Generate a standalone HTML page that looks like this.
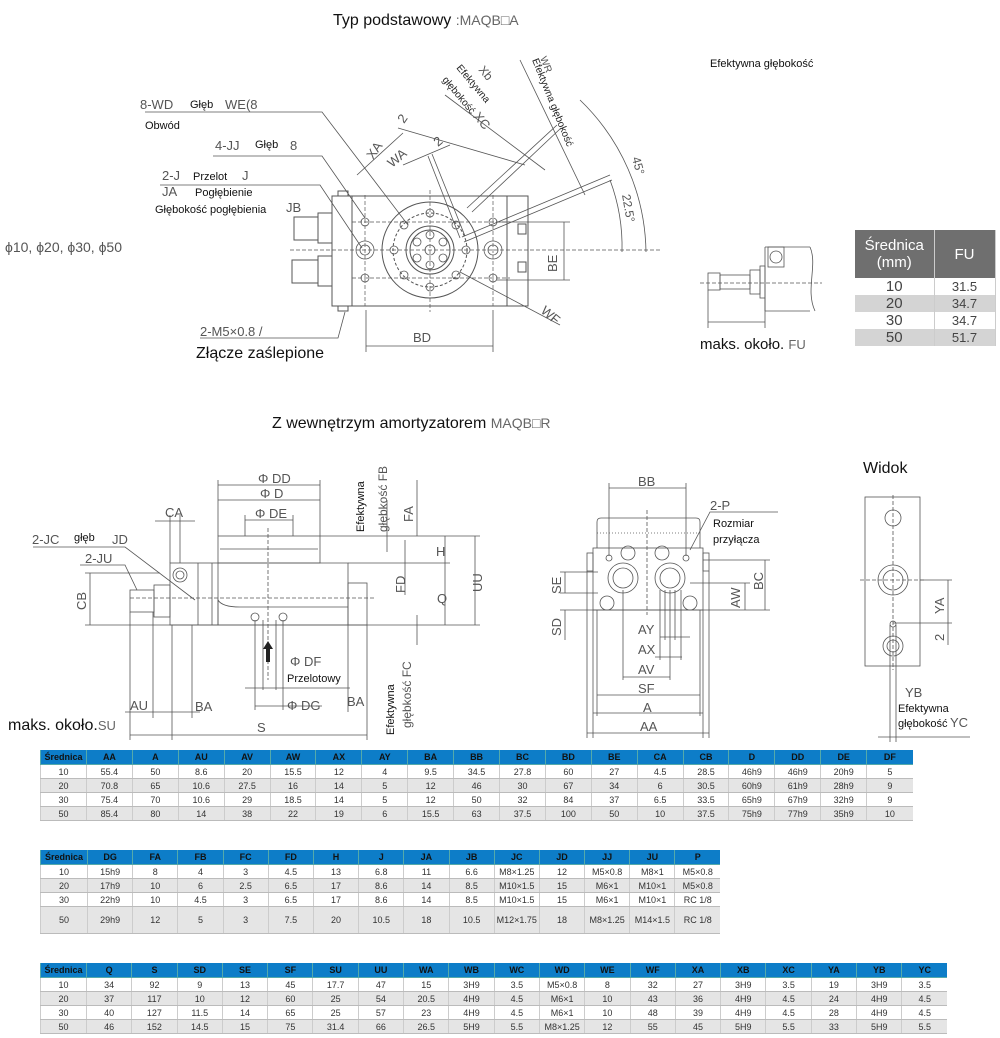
<!DOCTYPE html>
<html><head><meta charset="utf-8"><style>
body{margin:0;background:#fff;width:1000px;height:1038px;position:relative;overflow:hidden;font-family:"Liberation Sans",sans-serif}
svg{position:absolute;left:0;top:0}
table{position:absolute;border-collapse:collapse;table-layout:fixed;font-family:"Liberation Sans Narrow","Liberation Sans",sans-serif;font-size:9px;color:#333}
td{text-align:center;padding:0;border-left:1px solid #ccc;border-bottom:1px solid #bbb;height:13px;overflow:hidden;white-space:nowrap}
tr.h td{background:#0d7dc8;color:#111;font-weight:bold;height:14px;border-color:#5aa}
tr.g td{background:#e5e5e5}
.fu{position:absolute;left:855px;top:230px;border-collapse:collapse;font-family:"Liberation Sans",sans-serif;font-size:13px;color:#444}
.fu td{border:none;border-right:1px solid #ccc;height:17px}
</style></head><body>
<svg width="1000" height="1038" viewBox="0 0 1000 1038" font-family="Liberation Sans, sans-serif" fill="none" stroke="#555" stroke-width="1">
<g fill="#111" stroke="none">
<text x="333" y="25" font-size="16">Typ podstawowy <tspan fill="#666" font-size="14">:MAQB□A</tspan></text>
<text x="710" y="67" font-size="11">Efektywna głębokość</text>
<text x="272" y="428" font-size="16">Z wewnętrzym amortyzatorem <tspan fill="#666" font-size="14">MAQB□R</tspan></text>
<text x="863" y="473" font-size="16">Widok</text>
<text x="196" y="358" font-size="16">Złącze zaślepione</text>
<text x="8" y="730" font-size="16">maks. około.<tspan fill="#666" font-size="13">SU</tspan></text>
<text x="700" y="349" font-size="15">maks. około. <tspan fill="#666" font-size="13">FU</tspan></text>
</g>
<g fill="#555" stroke="none" font-size="13">
<text x="140" y="109">8-WD</text><text x="225" y="109">WE(8</text>
<text x="215" y="150">4-JJ</text><text x="290" y="150">8</text>
<text x="162" y="180">2-J</text><text x="242" y="180">J</text>
<text x="162" y="196">JA</text><text x="286" y="212">JB</text>
<text x="5" y="252" font-size="14">ϕ10, ϕ20, ϕ30, ϕ50</text>
<text x="200" y="336">2-M5×0.8 /</text>
<text x="413" y="342">BD</text>
<text transform="translate(557,272) rotate(-90)">BE</text>
<text transform="translate(540,312) rotate(40)">WF</text>
<text transform="translate(632,158) rotate(75)" font-size="12">45°</text>
<text transform="translate(622,195) rotate(80)" font-size="12">22.5°</text>
<text transform="translate(373,160) rotate(-55)">XA</text>
<text transform="translate(404,124) rotate(-55)">2</text>
<text transform="translate(392,168) rotate(-40)">WA</text>
<text transform="translate(438,147) rotate(-40)">2</text>
<text transform="translate(478,70) rotate(50)" font-size="12">Xb</text>
<text transform="translate(456,68) rotate(50)" font-size="10" fill="#222">Efektywna</text>
<text transform="translate(442,80) rotate(50)" font-size="10" fill="#222">głębokość <tspan font-size="13" fill="#555">XC</tspan></text>
<text transform="translate(540,58) rotate(68)" font-size="10">WR</text>
<text transform="translate(532,60) rotate(68)" font-size="10" fill="#222">Efektywna głębokość</text>
</g>
<g fill="#111" stroke="none" font-size="11">
<text x="190" y="108">Głęb</text><text x="145" y="129">Obwód</text>
<text x="255" y="148">Głęb</text><text x="193" y="180">Przelot</text>
<text x="195" y="196">Pogłębienie</text><text x="155" y="213">Głębokość pogłębienia</text>
</g>
<rect x="332" y="196" width="196" height="110"/>
<line x1="352" y1="196" x2="352" y2="306"/><line x1="507" y1="196" x2="507" y2="306"/>
<circle cx="430" cy="250" r="48"/><circle cx="430" cy="250" r="37" stroke-dasharray="3 2"/>
<circle cx="430" cy="250" r="24"/><circle cx="430" cy="250" r="20"/>
<g stroke-width="0.8">
<circle cx="430" cy="250" r="5"/><circle cx="417" cy="242" r="4"/><circle cx="443" cy="242" r="4"/><circle cx="417" cy="258" r="4"/><circle cx="443" cy="258" r="4"/><circle cx="430" cy="235" r="4"/><circle cx="430" cy="265" r="4"/>
<circle cx="404" cy="225" r="4"/><circle cx="456" cy="225" r="4"/><circle cx="404" cy="275" r="4"/><circle cx="456" cy="275" r="4"/><circle cx="430" cy="213" r="4"/><circle cx="430" cy="287" r="4"/><circle cx="394" cy="250" r="4"/><circle cx="466" cy="250" r="4"/>
<circle cx="365" cy="222" r="4"/><circle cx="365" cy="278" r="4"/><circle cx="493" cy="222" r="4"/><circle cx="493" cy="278" r="4"/>
<circle cx="365" cy="250" r="9"/><circle cx="365" cy="250" r="5"/><circle cx="493" cy="250" r="9"/><circle cx="493" cy="250" r="5"/>
</g>
<rect x="518" y="224" width="8" height="10"/><rect x="518" y="262" width="8" height="10"/>
<rect x="294" y="217" width="24" height="23"/><rect x="318" y="213" width="14" height="30"/>
<rect x="292" y="260" width="26" height="23"/><rect x="318" y="256" width="14" height="30"/>
<rect x="338" y="191" width="10" height="5"/><rect x="338" y="306" width="10" height="5"/>
<g stroke-dasharray="4 2" stroke-width="0.7"><line x1="290" y1="250" x2="660" y2="250"/><line x1="430" y1="190" x2="430" y2="312"/><line x1="365" y1="195" x2="365" y2="306"/><line x1="493" y1="195" x2="493" y2="306"/><line x1="352" y1="222" x2="510" y2="222"/><line x1="352" y1="278" x2="510" y2="278"/></g>
<g stroke-width="0.8">
<polyline points="145,112 322,112 408,225"/>
<polyline points="213,156 322,156 365,218"/>
<polyline points="160,185 320,185 362,248"/>
<polyline points="200,338 338,338 345,312"/>
<line x1="366" y1="346" x2="493" y2="346"/><line x1="366" y1="310" x2="366" y2="352"/><line x1="493" y1="310" x2="493" y2="352"/>
<line x1="564" y1="222" x2="564" y2="280"/><line x1="496" y1="222" x2="570" y2="222"/><line x1="496" y1="280" x2="570" y2="280"/>
<line x1="460" y1="272" x2="560" y2="325"/>
<path d="M580,100 A215,215 0 0 1 646,252"/><path d="M610,180 A190,190 0 0 1 622,252"/>
<line x1="467" y1="208" x2="557" y2="125"/><line x1="472" y1="212" x2="561" y2="128"/>
<line x1="462" y1="237" x2="610" y2="175"/><line x1="464" y1="242" x2="612" y2="180"/>
<line x1="357" y1="175" x2="403" y2="133"/><line x1="398" y1="128" x2="525" y2="165"/>
<line x1="403" y1="165" x2="450" y2="145"/><line x1="428" y1="156" x2="460" y2="238"/><line x1="432" y1="154" x2="465" y2="236"/>
<line x1="520" y1="60" x2="585" y2="195"/><line x1="445" y1="95" x2="545" y2="170"/>
</g>
<g stroke-width="0.8">
<rect x="708" y="273" width="12" height="17"/><rect x="720" y="275" width="30" height="14"/><rect x="750" y="270" width="10" height="24"/><rect x="760" y="266" width="5" height="32"/>
<rect x="768" y="247" width="16" height="20"/><circle cx="776" cy="257" r="6"/>
<path d="M765,247 H810 M765,311 H810 M765,247 V311 M810,247 C818,265 805,290 815,311"/>
<line x1="700" y1="283" x2="822" y2="283" stroke-dasharray="4 2"/>
<line x1="708" y1="290" x2="708" y2="328"/><line x1="765" y1="298" x2="765" y2="328"/><line x1="708" y1="322" x2="765" y2="322"/>
</g>
<g fill="#555" stroke="none" font-size="13">
<text x="258" y="483">Φ DD</text><text x="260" y="498">Φ D</text><text x="255" y="518">Φ DE</text>
<text x="165" y="517">CA</text><text x="32" y="544">2-JC</text><text x="112" y="544">JD</text><text x="85" y="563">2-JU</text>
<text transform="translate(86,610) rotate(-90)">CB</text>
<text x="290" y="666">Φ DF</text><text x="130" y="710">AU</text><text x="195" y="711">BA</text><text x="287" y="710">Φ DG</text><text x="347" y="706">BA</text><text x="257" y="732">S</text>
<text transform="translate(413,522) rotate(-90)">FA</text><text x="436" y="556">H</text>
<text transform="translate(405,593) rotate(-90)">FD</text><text x="437" y="603">Q</text>
<text transform="translate(482,592) rotate(-90)">UU</text>
<text transform="translate(387,532) rotate(-90)" font-size="12">głębkość FB</text>
<text transform="translate(411,728) rotate(-90)" font-size="12">głębkość  FC</text>
</g>
<g fill="#111" stroke="none" font-size="11">
<text x="74" y="541">głęb</text><text x="287" y="682">Przelotowy</text>
<text transform="translate(364,532) rotate(-90)">Efektywna</text>
<text transform="translate(394,735) rotate(-90)">Efektywna</text>
</g>
<g stroke-width="0.8">
<rect x="218" y="536" width="102" height="27"/><line x1="220" y1="549" x2="318" y2="549"/>
<path d="M218,563 H348 V625 H218 V600 Q222,607 240,607 H348"/>
<rect x="348" y="583" width="19" height="42"/>
<rect x="170" y="563" width="48" height="62"/><line x1="198" y1="563" x2="198" y2="625"/><line x1="212" y1="563" x2="212" y2="625"/>
<circle cx="180" cy="575" r="7"/><circle cx="180" cy="575" r="4"/>
<rect x="130" y="590" width="24" height="22"/><rect x="154" y="585" width="16" height="32"/>
<circle cx="255" cy="617" r="4"/><circle cx="283" cy="617" r="4"/>
<line x1="130" y1="598" x2="375" y2="598" stroke-dasharray="4 2"/>
<line x1="268" y1="528" x2="268" y2="680" stroke-dasharray="4 2"/>
<line x1="218" y1="485" x2="320" y2="485"/><line x1="218" y1="500" x2="320" y2="500"/><line x1="218" y1="480" x2="218" y2="536"/><line x1="320" y1="480" x2="320" y2="536"/>
<line x1="245" y1="520" x2="293" y2="520"/><line x1="245" y1="515" x2="245" y2="536"/><line x1="293" y1="515" x2="293" y2="536"/>
<line x1="155" y1="521" x2="195" y2="521"/><line x1="170" y1="515" x2="170" y2="563"/><line x1="180" y1="515" x2="180" y2="563"/>
<polyline points="33,547 125,547 195,600"/><polyline points="80,565 125,565 137,590"/>
<line x1="90" y1="573" x2="90" y2="625"/><line x1="85" y1="573" x2="160" y2="573"/><line x1="85" y1="625" x2="480" y2="625"/>
<line x1="320" y1="536" x2="480" y2="536"/><line x1="348" y1="563" x2="450" y2="563"/>
<line x1="417" y1="480" x2="417" y2="536"/><line x1="405" y1="540" x2="405" y2="595"/><line x1="445" y1="536" x2="445" y2="625"/><line x1="475" y1="536" x2="475" y2="625"/>
<line x1="417" y1="615" x2="417" y2="645"/><line x1="387" y1="500" x2="387" y2="552"/>
<line x1="130" y1="612" x2="130" y2="740"/><line x1="153" y1="612" x2="153" y2="718"/><line x1="172" y1="625" x2="172" y2="740"/><line x1="192" y1="625" x2="192" y2="718"/>
<line x1="348" y1="625" x2="348" y2="712"/><line x1="367" y1="625" x2="367" y2="740"/>
<line x1="125" y1="712" x2="200" y2="712"/><line x1="130" y1="735" x2="172" y2="735"/><line x1="172" y1="735" x2="367" y2="735"/>
<line x1="255" y1="620" x2="255" y2="710"/><line x1="283" y1="620" x2="283" y2="710"/><line x1="245" y1="688" x2="350" y2="688"/><line x1="255" y1="706" x2="322" y2="706"/><line x1="263" y1="620" x2="263" y2="690"/><line x1="276" y1="620" x2="276" y2="690"/>
</g>
<polygon points="268,641 263,649 266,649 266,662 270,662 270,649 273,649" fill="#222" stroke="none"/>
<g fill="#555" stroke="none" font-size="13">
<text x="638" y="486">BB</text><text x="710" y="510">2-P</text>
<text transform="translate(561,594) rotate(-90)">SE</text><text transform="translate(561,636) rotate(-90)">SD</text>
<text transform="translate(740,608) rotate(-90)">AW</text><text transform="translate(763,590) rotate(-90)">BC</text>
<text x="638" y="634">AY</text><text x="638" y="654">AX</text><text x="638" y="674">AV</text><text x="638" y="693">SF</text><text x="643" y="712">A</text><text x="640" y="731">AA</text>
<text transform="translate(944,614) rotate(-90)">YA</text><text transform="translate(944,641) rotate(-90)">2</text>
<text x="905" y="697">YB</text><text x="950" y="727">YC</text>
</g>
<g fill="#111" stroke="none" font-size="11">
<text x="713" y="527">Rozmiar</text><text x="713" y="543">przyłącza</text>
<text x="898" y="712">Efektywna</text><text x="898" y="727">głębokość</text>
</g>
<g stroke-width="0.8">
<path d="M597,548 V522 Q597,518 601,518 H696 Q700,518 700,522 V548"/><line x1="597" y1="533" x2="700" y2="533" stroke-dasharray="1 2"/>
<rect x="593" y="548" width="110" height="62"/><rect x="587" y="553" width="6" height="18"/><rect x="703" y="553" width="6" height="18"/>
<circle cx="623" cy="578" r="15"/><circle cx="623" cy="578" r="10"/><circle cx="670" cy="578" r="15"/><circle cx="670" cy="578" r="10"/>
<circle cx="607" cy="603" r="7"/><circle cx="690" cy="603" r="7"/><circle cx="628" cy="553" r="7"/><circle cx="662" cy="553" r="7"/>
<circle cx="609" cy="558" r="3"/><circle cx="686" cy="558" r="3"/>
<line x1="647" y1="510" x2="647" y2="615" stroke-dasharray="4 2"/>
<line x1="609" y1="488" x2="686" y2="488"/><line x1="609" y1="483" x2="609" y2="556"/><line x1="686" y1="483" x2="686" y2="556"/>
<polyline points="778,512 710,512 690,550"/>
<line x1="565" y1="572" x2="565" y2="593"/><line x1="560" y1="572" x2="598" y2="572"/><line x1="560" y1="593" x2="598" y2="593"/>
<line x1="565" y1="610" x2="565" y2="640"/><line x1="560" y1="610" x2="770" y2="610"/>
<line x1="745" y1="583" x2="745" y2="610"/><line x1="765" y1="560" x2="765" y2="610"/><line x1="690" y1="583" x2="750" y2="583"/><line x1="703" y1="560" x2="770" y2="560"/>
<line x1="623" y1="590" x2="623" y2="680"/><line x1="660" y1="590" x2="660" y2="660"/><line x1="665" y1="590" x2="665" y2="640"/><line x1="670" y1="590" x2="670" y2="680"/><line x1="675" y1="590" x2="675" y2="640"/><line x1="681" y1="590" x2="681" y2="660"/>
<line x1="660" y1="637" x2="690" y2="637"/><line x1="655" y1="657" x2="682" y2="657"/><line x1="623" y1="677" x2="670" y2="677"/>
<line x1="597" y1="610" x2="597" y2="716"/><line x1="700" y1="610" x2="700" y2="716"/><line x1="597" y1="695" x2="700" y2="695"/>
<line x1="593" y1="610" x2="593" y2="738"/><line x1="703" y1="610" x2="703" y2="738"/><line x1="593" y1="713" x2="703" y2="713"/>
<line x1="587" y1="571" x2="587" y2="738"/><line x1="709" y1="571" x2="709" y2="738"/><line x1="587" y1="733" x2="709" y2="733"/>
<rect x="865" y="497" width="55" height="169"/>
<circle cx="893" cy="518" r="8"/><circle cx="893" cy="580" r="15"/><circle cx="893" cy="580" r="10"/><circle cx="893" cy="646" r="10"/><circle cx="893" cy="646" r="6"/>
<line x1="893" y1="495" x2="893" y2="670" stroke-dasharray="4 2"/><line x1="860" y1="580" x2="925" y2="580" stroke-dasharray="4 2"/>
<line x1="920" y1="580" x2="952" y2="580"/><line x1="893" y1="623" x2="952" y2="623"/><line x1="948" y1="580" x2="948" y2="645"/>
<line x1="890" y1="625" x2="890" y2="742"/><line x1="896" y1="625" x2="896" y2="742"/><circle cx="893" cy="624" r="3"/>
<line x1="878" y1="737" x2="970" y2="737"/>
</g>
</svg>

<table class="fu">
<colgroup><col style="width:79px"><col style="width:61px"></colgroup>
<tr><td style="background:#6f6f6f;color:#fff;height:48px;font-size:15px;line-height:17px">Średnica<br>(mm)</td><td style="background:#6f6f6f;color:#fff;font-size:15px">FU</td></tr>
<tr><td style="font-size:15px">10</td><td>31.5</td></tr>
<tr style="background:#d4d4d4"><td style="font-size:15px">20</td><td>34.7</td></tr>
<tr><td style="font-size:15px">30</td><td>34.7</td></tr>
<tr style="background:#d4d4d4"><td style="font-size:15px">50</td><td>51.7</td></tr>
</table>

<table style="left:40px;top:750px;width:872px">
<colgroup><col style="width:46px"><col span="18" style="width:45.9px"></colgroup>
<tr class="h"><td>Średnica</td><td>AA</td><td>A</td><td>AU</td><td>AV</td><td>AW</td><td>AX</td><td>AY</td><td>BA</td><td>BB</td><td>BC</td><td>BD</td><td>BE</td><td>CA</td><td>CB</td><td>D</td><td>DD</td><td>DE</td><td>DF</td></tr>
<tr><td>10</td><td>55.4</td><td>50</td><td>8.6</td><td>20</td><td>15.5</td><td>12</td><td>4</td><td>9.5</td><td>34.5</td><td>27.8</td><td>60</td><td>27</td><td>4.5</td><td>28.5</td><td>46h9</td><td>46h9</td><td>20h9</td><td>5</td></tr>
<tr class="g"><td>20</td><td>70.8</td><td>65</td><td>10.6</td><td>27.5</td><td>16</td><td>14</td><td>5</td><td>12</td><td>46</td><td>30</td><td>67</td><td>34</td><td>6</td><td>30.5</td><td>60h9</td><td>61h9</td><td>28h9</td><td>9</td></tr>
<tr><td>30</td><td>75.4</td><td>70</td><td>10.6</td><td>29</td><td>18.5</td><td>14</td><td>5</td><td>12</td><td>50</td><td>32</td><td>84</td><td>37</td><td>6.5</td><td>33.5</td><td>65h9</td><td>67h9</td><td>32h9</td><td>9</td></tr>
<tr class="g"><td>50</td><td>85.4</td><td>80</td><td>14</td><td>38</td><td>22</td><td>19</td><td>6</td><td>15.5</td><td>63</td><td>37.5</td><td>100</td><td>50</td><td>10</td><td>37.5</td><td>75h9</td><td>77h9</td><td>35h9</td><td>10</td></tr>
</table>

<table style="left:40px;top:850px;width:680px">
<colgroup><col style="width:47px"><col span="14" style="width:45.2px"></colgroup>
<tr class="h"><td>Średnica</td><td>DG</td><td>FA</td><td>FB</td><td>FC</td><td>FD</td><td>H</td><td>J</td><td>JA</td><td>JB</td><td>JC</td><td>JD</td><td>JJ</td><td>JU</td><td>P</td></tr>
<tr><td>10</td><td>15h9</td><td>8</td><td>4</td><td>3</td><td>4.5</td><td>13</td><td>6.8</td><td>11</td><td>6.6</td><td>M8×1.25</td><td>12</td><td>M5×0.8</td><td>M8×1</td><td>M5×0.8</td></tr>
<tr class="g"><td>20</td><td>17h9</td><td>10</td><td>6</td><td>2.5</td><td>6.5</td><td>17</td><td>8.6</td><td>14</td><td>8.5</td><td>M10×1.5</td><td>15</td><td>M6×1</td><td>M10×1</td><td>M5×0.8</td></tr>
<tr><td>30</td><td>22h9</td><td>10</td><td>4.5</td><td>3</td><td>6.5</td><td>17</td><td>8.6</td><td>14</td><td>8.5</td><td>M10×1.5</td><td>15</td><td>M6×1</td><td>M10×1</td><td>RC 1/8</td></tr>
<tr class="g"><td style="height:26px">50</td><td>29h9</td><td>12</td><td>5</td><td>3</td><td>7.5</td><td>20</td><td>10.5</td><td>18</td><td>10.5</td><td>M12×1.75</td><td>18</td><td>M8×1.25</td><td>M14×1.5</td><td>RC 1/8</td></tr>
</table>

<table style="left:40px;top:963px;width:907px">
<colgroup><col style="width:46px"><col span="19" style="width:45.3px"></colgroup>
<tr class="h"><td>Średnica</td><td>Q</td><td>S</td><td>SD</td><td>SE</td><td>SF</td><td>SU</td><td>UU</td><td>WA</td><td>WB</td><td>WC</td><td>WD</td><td>WE</td><td>WF</td><td>XA</td><td>XB</td><td>XC</td><td>YA</td><td>YB</td><td>YC</td></tr>
<tr><td>10</td><td>34</td><td>92</td><td>9</td><td>13</td><td>45</td><td>17.7</td><td>47</td><td>15</td><td>3H9</td><td>3.5</td><td>M5×0.8</td><td>8</td><td>32</td><td>27</td><td>3H9</td><td>3.5</td><td>19</td><td>3H9</td><td>3.5</td></tr>
<tr class="g"><td>20</td><td>37</td><td>117</td><td>10</td><td>12</td><td>60</td><td>25</td><td>54</td><td>20.5</td><td>4H9</td><td>4.5</td><td>M6×1</td><td>10</td><td>43</td><td>36</td><td>4H9</td><td>4.5</td><td>24</td><td>4H9</td><td>4.5</td></tr>
<tr><td>30</td><td>40</td><td>127</td><td>11.5</td><td>14</td><td>65</td><td>25</td><td>57</td><td>23</td><td>4H9</td><td>4.5</td><td>M6×1</td><td>10</td><td>48</td><td>39</td><td>4H9</td><td>4.5</td><td>28</td><td>4H9</td><td>4.5</td></tr>
<tr class="g"><td>50</td><td>46</td><td>152</td><td>14.5</td><td>15</td><td>75</td><td>31.4</td><td>66</td><td>26.5</td><td>5H9</td><td>5.5</td><td>M8×1.25</td><td>12</td><td>55</td><td>45</td><td>5H9</td><td>5.5</td><td>33</td><td>5H9</td><td>5.5</td></tr>
</table>
</body></html>
